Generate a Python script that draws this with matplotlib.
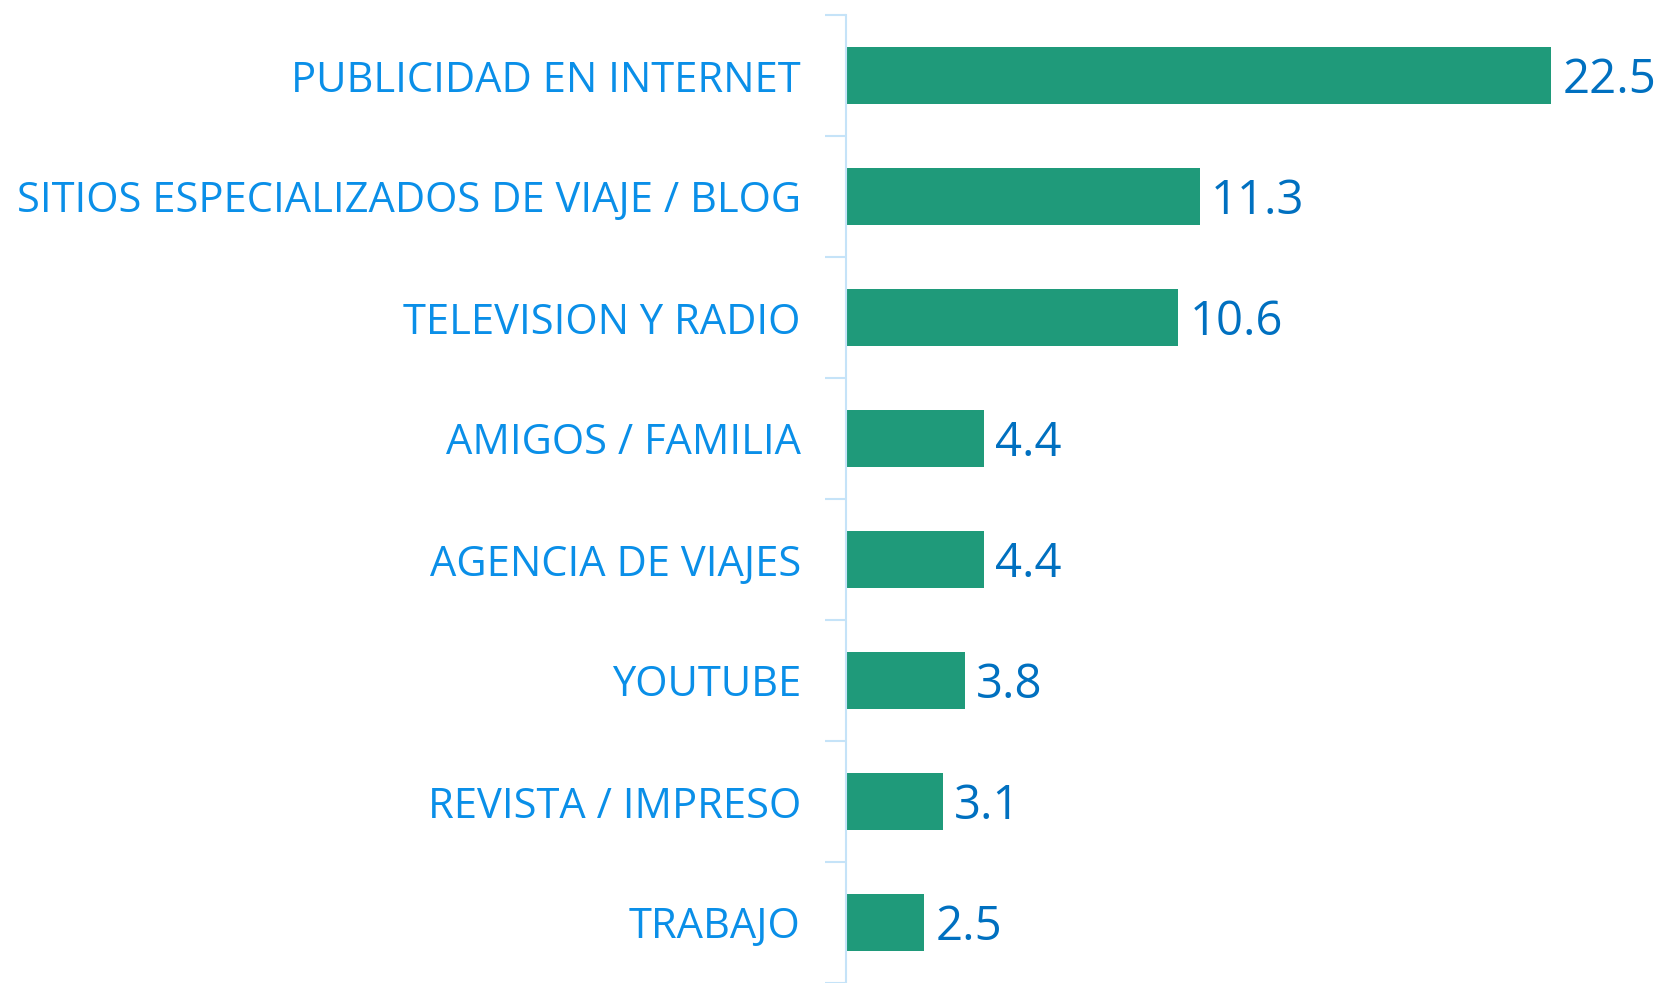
import matplotlib.pyplot as plt

# dati
categorie = ["PUBLICIDAD EN INTERNET", "SITIOS ESPECIALIZADOS DE VIAJE / BLOG",
             "TELEVISION Y RADIO", "AMIGOS / FAMILIA", "AGENCIA DE VIAJES",
             "YOUTUBE", "REVISTA / IMPRESO", "TRABAJO"]
valori = [22.5, 11.3, 10.6, 4.4, 4.4, 3.8, 3.1, 2.5]

plt.rcParams['font.family'] = ['Open Sans', 'DejaVu Sans']

fig = plt.figure(figsize=(16.58, 9.83), dpi=100)
ax = fig.add_axes([846/1658, 0, 1 - 846/1658, 1 - 15/983])

y = range(len(categorie))
ax.barh(y, valori, height=0.47, color="#1F9A7A")
ax.set_ylim(len(categorie) - 0.5, -0.5)
ax.set_xlim(0, 25.9)

ax.set_yticks([i - 0.5 for i in range(len(categorie) + 1)])
ax.set_yticklabels([])
ax.set_yticks(list(y), minor=True)
ax.set_yticklabels(categorie, minor=True, color="#0A8FE8", fontsize=30)
ax.tick_params(axis="y", which="major", length=15, color="#C5E3F8", width=1.5)
ax.tick_params(axis="y", which="minor", length=0, pad=32.5)
ax.set_xticks([])

for s in ["top", "right", "bottom"]:
    ax.spines[s].set_visible(False)
ax.spines["left"].set_color("#C5E3F8")
ax.spines["left"].set_linewidth(1.5)

for i, v in enumerate(valori):
    ax.text(v + 0.35, i + 0.04, f"{v}", va="center", ha="left",
            color="#0070C0", fontsize=34)

fig.savefig("out.png", dpi=100)
